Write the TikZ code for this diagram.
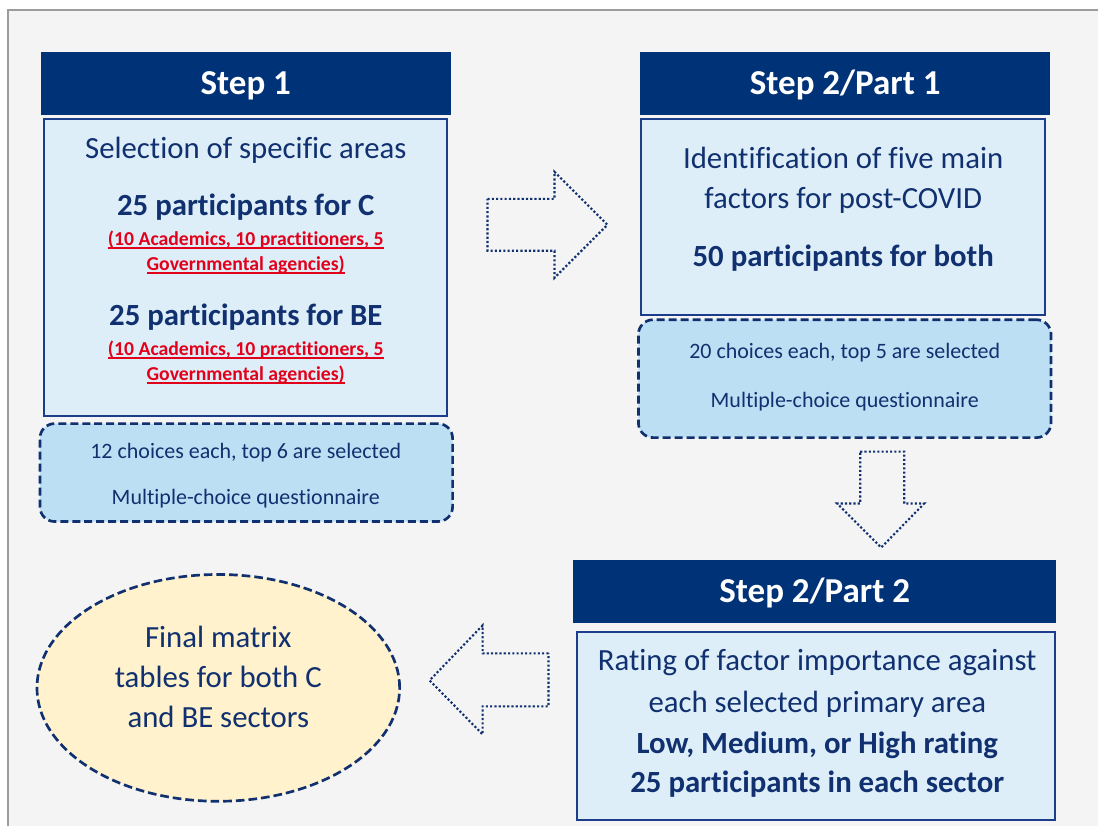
\documentclass[tikz,border=0pt]{standalone}
\usepackage{fontspec}
\setmainfont{Carlito}[Ligatures=NoCommon]
\usetikzlibrary{shapes.geometric}

\definecolor{stepnavy}{HTML}{003278}
\definecolor{ink}{HTML}{10306F}
\definecolor{boxline}{HTML}{1C3D8C}
\definecolor{boxfill}{HTML}{DDEEF9}
\definecolor{notefill}{HTML}{BDDFF3}
\definecolor{finalfill}{HTML}{FFF2CC}
\definecolor{alertred}{HTML}{E3001B}
\definecolor{paper}{HTML}{F4F4F4}
\definecolor{framegray}{HTML}{9C9C9C}

\newsavebox{\redbox}
\newcommand{\redul}[1]{\sbox{\redbox}{#1}\rlap{\rule[-2.2pt]{\wd\redbox}{1pt}}\usebox{\redbox}}

\begin{document}
\begin{tikzpicture}[
        x=0.75pt, y=-0.75pt,
        header/.style={fill=stepnavy, text=white, inner sep=0pt,
            font=\fontsize{26.25}{30}\selectfont\bfseries,
            minimum height=47.25pt, text height=19pt, text depth=3pt},
        body/.style={draw=boxline, line width=1.5pt, fill=boxfill, inner sep=0pt},
        note/.style={draw=ink, line width=2pt, dash pattern=on 6pt off 3pt,
            rounded corners=11pt, fill=notefill, inner sep=0pt},
        final/.style={ellipse, draw=ink, line width=2pt, dash pattern=on 6.5pt off 3pt,
            fill=finalfill, inner sep=0pt, minimum width=272.25pt, minimum height=170.25pt},
        blockarr/.style={draw=ink, line width=1.6pt, dash pattern=on 1.6pt off 1.6pt},
        txt/.style={anchor=base, inner sep=0pt, text=ink, font=\fontsize{23.1}{27}\selectfont},
        boldtxt/.style={txt, font=\fontsize{23.1}{27}\selectfont\bfseries},
        notetxt/.style={txt, font=\fontsize{16.5}{20}\selectfont},
        redtxt/.style={txt, text=alertred, font=\fontsize{14.8}{18}\selectfont\bfseries}
    ]
        % page and frame
        \fill[white] (0,0) rectangle (1099,827);
        \fill[paper] (8,10) rectangle (1099,827);
        \draw[framegray, line width=1.5pt] (8,827) -- (8,10) -- (1099,10);

        % step 1
        \node[header, minimum width=307.5pt] (s1head) at (246,83.5) {Step 1};
        \node[body, minimum width=302.25pt, minimum height=222.75pt] (s1body) at (245.5,267.5) {};
        \node[note, minimum width=309.75pt, minimum height=73.5pt] (s1note) at (246.5,473) {};
        \node[txt] (s1sel) at (246,159) {Selection of specific areas};
        \node[boldtxt] (s1c) at (246,216) {25 participants for C};
        \node[redtxt] (s1cA) at (246,246) {\redul{(10 Academics, 10 practitioners, 5}};
        \node[redtxt] (s1cB) at (246,271) {\redul{Governmental agencies)}};
        \node[boldtxt] (s1be) at (246,326) {25 participants for BE};
        \node[redtxt] (s1beA) at (246,356) {\redul{(10 Academics, 10 practitioners, 5}};
        \node[redtxt] (s1beB) at (246,381) {\redul{Governmental agencies)}};
        \node[notetxt] (s1n1) at (246,459) {12 choices each, top 6 are selected};
        \node[notetxt] (s1n2) at (246,505) {Multiple-choice questionnaire};

        % step 2, part 1
        \node[header, minimum width=307.5pt] (s2head) at (846,83.5) {Step 2/Part 1};
        \node[body, minimum width=303pt, minimum height=147pt] (s2body) at (844,217) {};
        \node[note, minimum width=309.75pt, minimum height=88.5pt] (s2note) at (845.5,379) {};
        \node[txt] (s2a) at (844,169) {Identification of five main};
        \node[txt] (s2b) at (844,209) {factors for post-COVID};
        \node[boldtxt] (s2c) at (844,267) {50 participants for both};
        \node[notetxt] (s2n1) at (845.5,359) {20 choices each, top 5 are selected};
        \node[notetxt] (s2n2) at (845.5,408) {Multiple-choice questionnaire};

        % step 2, part 2
        \node[header, minimum width=362.25pt] (s3head) at (815.5,592.5) {Step 2/Part 2};
        \node[body, minimum width=358.5pt, minimum height=141pt] (s3body) at (817,727) {};
        \node[txt] (s3a) at (818,671) {Rating of factor importance against};
        \node[txt] (s3b) at (818,713) {each selected primary area};
        \node[boldtxt] (s3c) at (818,754) {Low, Medium, or High rating};
        \node[boldtxt] (s3d) at (818,793) {25 participants in each sector};

        % result
        \node[final] (fin) at (218.5,688.5) {};
        \node[txt] (fina) at (218.5,648) {Final matrix};
        \node[txt] (finb) at (218.5,688) {tables for both C};
        \node[txt] (finc) at (218.5,728) {and BE sectors};

        % block arrows
        \draw[blockarr] (488,199) -- (555,199) -- (555,172) -- (608,225)
            -- (555,278) -- (555,251) -- (488,251) -- cycle;
        \draw[blockarr] (861,452) -- (905,452) -- (905,504) -- (925,504)
            -- (882,548) -- (838,504) -- (861,504) -- cycle;
        \draw[blockarr] (549,654) -- (483,654) -- (483,626) -- (430,681)
            -- (483,735) -- (483,707) -- (549,707) -- cycle;
    \end{tikzpicture}
\end{document}
